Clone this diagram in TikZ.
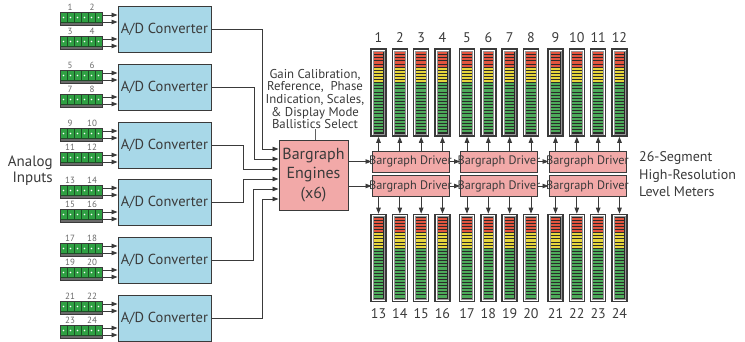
\documentclass[tikz,border=0pt]{standalone}
\usepackage{fontspec}
\setmainfont{PT Sans}
\usetikzlibrary{arrows.meta,calc}
\definecolor{txt}{HTML}{3A3A3A}
\definecolor{lgrey}{HTML}{6A6A6A}
\definecolor{adfill}{HTML}{A8D8E8}
\definecolor{pinkfill}{HTML}{F2A9A8}
\definecolor{tgreen}{HTML}{2FA043}
\definecolor{tdark}{HTML}{1D4F26}
\definecolor{mred}{HTML}{E2553F}
\definecolor{myel}{HTML}{E6D53C}
\definecolor{mgrn}{HTML}{4DAA5A}
\definecolor{minner}{HTML}{2A2A2A}
\newcommand\mymeter[3]{%
  \node[meter] (#1) at (#2,#3) {};
  \filldraw[fill=minner,draw=lgrey!70,line width=0.6pt] (#2-5.4,#3-41.3) rectangle (#2+5.4,#3+41.3);
  \foreach \j in {0,...,25}{%
    \pgfmathsetmacro\yy{#3-40.4+\j*3.115}%
    \ifnum\j<5 \def\col{mred}\else\ifnum\j<10 \def\col{myel}\else\def\col{mgrn}\fi\fi
    \fill[\col] (#2-4.7,\yy) rectangle (#2+4.7,\yy+2.1);
  }%
}
\begin{document}
\begin{tikzpicture}[x=1pt,y=-1pt,
  adbox/.style={draw=txt,line width=1pt,fill=adfill,minimum width=93pt,minimum height=46pt,inner sep=0pt,text=txt,font=\fontsize{14.5}{16}\selectfont},
  conn/.style={draw=txt,line width=0.7pt,minimum width=42pt,minimum height=13pt,inner sep=0pt},
  numlbl/.style={text=lgrey,font=\fontsize{9}{9}\selectfont,inner sep=0pt},
  arr/.style={draw=txt,line width=0.9pt,-{Triangle[length=6pt,width=4.5pt]}},
  wire/.style={draw=txt!80,line width=0.9pt},
  eng/.style={draw=txt,line width=1pt,fill=pinkfill,minimum width=69pt,minimum height=70pt,inner sep=0pt,text=txt,align=center,font=\fontsize{16}{19.5}\selectfont},
  drv/.style={draw=txt,line width=1pt,fill=pinkfill,minimum width=77pt,minimum height=21pt,inner sep=0pt},
  drvtext/.style={text=txt,inner sep=0pt,font=\fontsize{12.3}{13}\selectfont},
  meter/.style={draw=txt,line width=1.6pt,fill=white,minimum width=15pt,minimum height=87pt,inner sep=0pt},
  mnum/.style={text=txt,font=\fontsize{14}{15}\selectfont,inner sep=0pt},
  lbl/.style={text=txt,inner sep=0pt}]
\useasboundingbox (0,0) rectangle (745,341);

% A/D converters and terminal blocks
\foreach \i/\c in {1/29,2/87,3/145,4/202,5/260,6/318}{
  \node[adbox] (ad\i) at (164.5,\c) {A/D Converter};
  \pgfmathtruncatemacro\na{4*\i-3}
  \pgfmathtruncatemacro\nb{4*\i-2}
  \pgfmathtruncatemacro\nc{4*\i-1}
  \pgfmathtruncatemacro\nd{4*\i}
  \foreach \t in {-17,7}{
    \fill[lgrey] (60,\c+\t+10.5) rectangle (102,\c+\t+13);
    \foreach \k in {0,...,5}{
      \filldraw[fill=tgreen,draw=tdark,line width=0.5pt] (60+7*\k,\c+\t) rectangle ++(7,10.5);
      \fill[white] (63.5+7*\k,\c+\t+5.5) circle (0.9);
    }
  }
  \node[conn] (ca\i) at (81,\c-10.5) {};
  \node[conn] (cb\i) at (81,\c+13.5) {};
  \node[numlbl] at (70,\c-22) {\na};
  \node[numlbl] at (92,\c-22) {\nb};
  \node[numlbl] at (70,\c+2) {\nc};
  \node[numlbl] at (92,\c+2) {\nd};
  \draw[arr] (ca\i.east |- 0,\c-14) -- (ad\i.west |- 0,\c-14);
  \draw[arr] (ca\i.east |- 0,\c-7) -- (ad\i.west |- 0,\c-7);
  \draw[arr] (cb\i.east |- 0,\c+10) -- (ad\i.west |- 0,\c+10);
  \draw[arr] (cb\i.east |- 0,\c+17) -- (ad\i.west |- 0,\c+17);
}

\node[lbl,align=right,anchor=east,font=\fontsize{15}{15.5}\selectfont] (ain) at (53,170.5) {Analog\\Inputs};

% Bargraph engines
\node[eng] (eng) at (313.5,175) {Bargraph\\Engines\\(x6)};
\node[lbl,align=center,font=\fontsize{12.8}{12.6}\selectfont] (ann) at (315,99) {Gain Calibration,\\Reference,~ Phase\\Indication, Scales,\\\& Display Mode\\Ballistics Select};
\draw[wire] (ann.south) -- (ann.south |- eng.north);

\foreach \i/\y in {1/149,2/159,3/169,4/179,5/189,6/199}{
  \coordinate (e\i) at (eng.west |- 0,\y);
}
\draw[arr] (ad1.east) -- ++(51,0) |- (e1);
\draw[arr] (ad2.east) -- ++(43,0) |- (e2);
\draw[arr] (ad3.east) -- ++(32,0) |- (e3);
\draw[arr] (ad4.east) -- ++(32,0) |- (e4);
\draw[arr] (ad5.east) -- ++(42,0) |- (e5);
\draw[arr] (ad6.east) -- ++(51,0) |- (e6);

% drivers
\foreach \g in {0,1,2}{
  \node[drv] (da\g) at (410.5+88.5*\g,161.5) {};
  \node[drv] (db\g) at (410.5+88.5*\g,186) {};
  \node[drvtext] at (da\g) {Bargraph Driver};
  \node[drvtext] at (db\g) {Bargraph Driver};
}
\draw[arr] (eng.east |- da0.west) -- (da0.west);
\draw[arr] (eng.east |- db0.west) -- (db0.west);
\draw[arr] (da0.east) -- (da1.west);
\draw[arr] (da1.east) -- (da2.west);
\draw[arr] (db0.east) -- (db1.west);
\draw[arr] (db1.east) -- (db2.west);

% meters
\foreach \g in {0,1,2}{
  \foreach \k in {0,1,2,3}{
    \pgfmathtruncatemacro\nt{4*\g+\k+1}
    \pgfmathtruncatemacro\nbt{4*\g+\k+13}
    \pgfmathsetmacro\xc{378.5+88.5*\g+21.33*\k}
    \mymeter{m\nt}{\xc}{92.5}
    \mymeter{m\nbt}{\xc}{258}
    \node[mnum] at (\xc,38) {\nt};
    \node[mnum] at (\xc,314) {\nbt};
    \draw[arr] (m\nt.south |- da\g.north) -- (m\nt.south);
    \draw[arr] (m\nbt.north |- db\g.south) -- (m\nbt.north);
  }
}

\node[lbl,align=left,anchor=west,font=\fontsize{14}{17.5}\selectfont] (lvl) at (639,174.5) {26-Segment\\High-Resolution\\Level Meters};
\end{tikzpicture}
\end{document}
